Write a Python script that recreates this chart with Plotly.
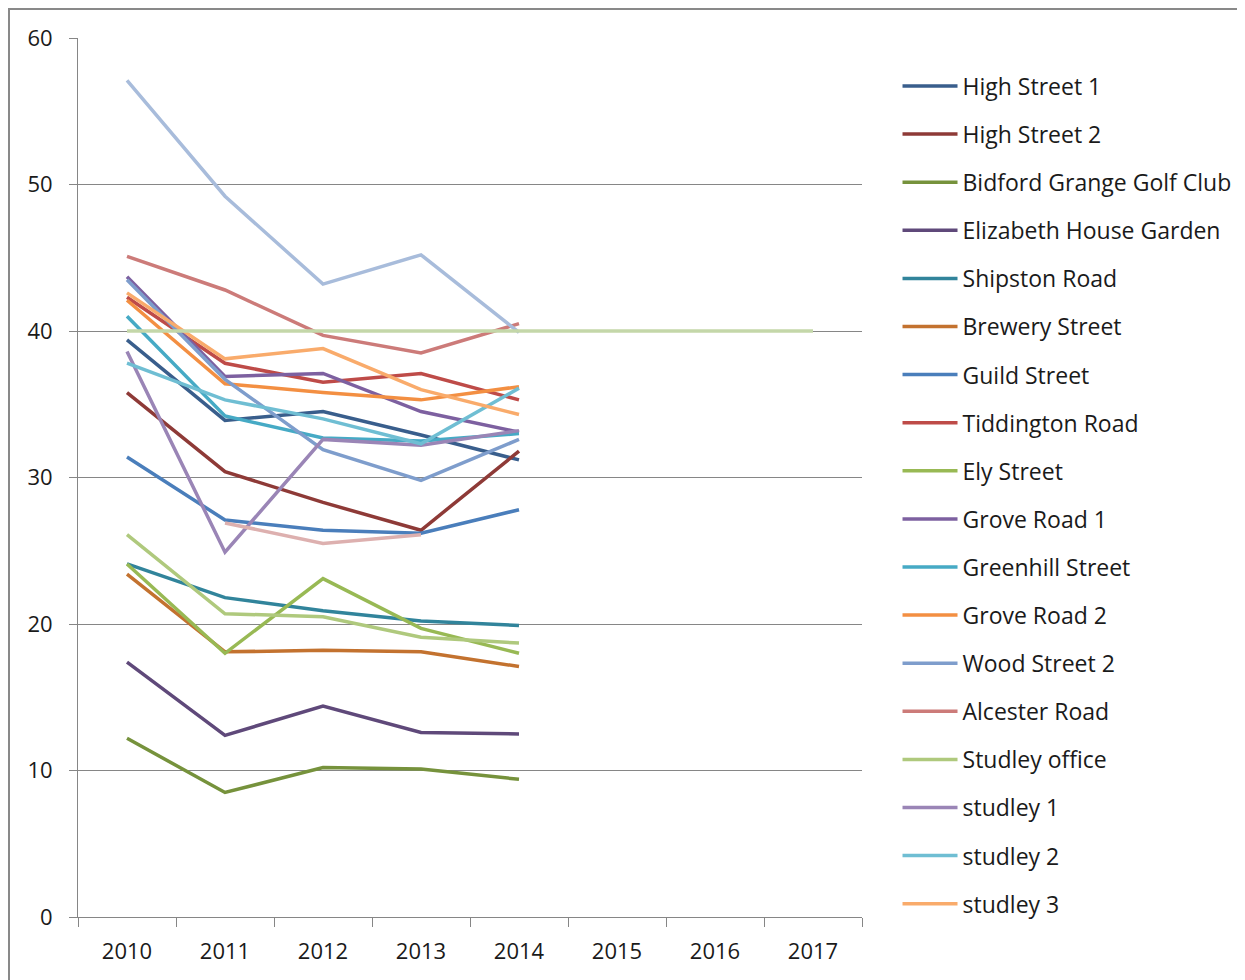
import plotly.graph_objects as go

years = ["2010", "2011", "2012", "2013", "2014", "2015", "2016", "2017"]

names = [
    "High Street 1", "High Street 2", "Bidford Grange Golf Club", "Elizabeth House Garden",
    "Shipston Road", "Brewery Street", "Guild Street", "Tiddington Road", "Ely Street",
    "Grove Road 1", "Greenhill Street", "Grove Road 2", "Wood Street 2", "Alcester Road",
    "Studley office", "studley 1", "studley 2", "studley 3",
    "Series 19", "Series 20", "Series 21",
]

high_street_1 = [39.4, 33.9, 34.5, 32.9, 31.2]
high_street_2 = [35.8, 30.4, 28.3, 26.4, 31.8]
bidford = [12.2, 8.5, 10.2, 10.1, 9.4]
elizabeth = [17.4, 12.4, 14.4, 12.6, 12.5]
shipston = [24.1, 21.8, 20.9, 20.2, 19.9]
brewery = [23.4, 18.1, 18.2, 18.1, 17.1]
guild = [31.4, 27.1, 26.4, 26.2, 27.8]
tiddington = [42.3, 37.8, 36.5, 37.1, 35.3]
ely = [24.1, 18.0, 23.1, 19.7, 18.0]
grove_1 = [43.7, 36.9, 37.1, 34.5, 33.1]
greenhill = [41.0, 34.2, 32.7, 32.5, 33.0]
grove_2 = [42.1, 36.4, 35.8, 35.3, 36.2]
wood_2 = [43.5, 36.7, 31.9, 29.8, 32.6]
alcester = [45.1, 42.8, 39.7, 38.5, 40.5]
studley_office = [26.1, 20.7, 20.5, 19.1, 18.7]
studley_1 = [38.6, 24.9, 32.6, 32.2, 33.2]
studley_2 = [37.8, 35.3, 34.0, 32.3, 36.1]
studley_3 = [42.6, 38.1, 38.8, 36.0, 34.3]
series_19 = [57.1, 49.2, 43.2, 45.2, 39.9]
series_20 = [None, 26.9, 25.5, 26.1, None]
series_21 = [40, 40, 40, 40, 40, 40, 40, 40]

values = [
    high_street_1, high_street_2, bidford, elizabeth, shipston, brewery, guild,
    tiddington, ely, grove_1, greenhill, grove_2, wood_2, alcester, studley_office,
    studley_1, studley_2, studley_3, series_19, series_20, series_21,
]

colors = [
    "#395E8C", "#8E3A37", "#76923C", "#5F497A", "#31849B", "#C3722F", "#4A7EBB",
    "#BE4B48", "#98B954", "#7D60A0", "#46AAC5", "#F38F42", "#7E9DCC", "#CC7B79",
    "#AFC97D", "#9A85B6", "#6FBED3", "#F9AB6B", "#A8BCDB", "#DDB0AF", "#C4D7A9",
]

fig = go.Figure()
for i, (n, v, c) in enumerate(zip(names, values, colors)):
    fig.add_trace(go.Scatter(
        x=years[:len(v)], y=v, name=n, mode="lines",
        line=dict(color=c, width=3.5),
        legendgroup=f"g{i}",
        showlegend=i < 18,
        connectgaps=False,
    ))

font_family = "Open Sans, Noto Sans, sans-serif"
W, H = 1237, 972
L, T = 70, 30
PW, PH = 784, 879

fig.update_layout(
    width=W, height=H,
    margin=dict(l=L, r=W - L - PW, t=T, b=H - T - PH, autoexpand=False),
    paper_bgcolor="white", plot_bgcolor="white",
    font=dict(family=font_family, size=22, color="#1a1a1a"),
    showlegend=True,
    legend=dict(
        x=1.0453, y=0.9698, xanchor="left", yanchor="top",
        font=dict(size=23, family=font_family, color="#1a1a1a"),
        tracegroupgap=15.2, traceorder="grouped",
        itemwidth=55,
    ),
    xaxis=dict(
        type="category", categoryorder="array", categoryarray=years,
        range=[-0.5, 7.5],
        showgrid=False, showline=True, linecolor="#868686", linewidth=1,
        ticks="outside", tickson="boundaries", ticklen=9, tickcolor="#868686",
        tickfont=dict(size=22), ticklabelstandoff=15,
    ),
    yaxis=dict(
        range=[0, 60], dtick=10, tick0=0,
        showgrid=True, gridcolor="#868686", gridwidth=1,
        showline=True, linecolor="#868686", linewidth=1,
        ticks="outside", ticklen=8, tickcolor="#868686",
        zeroline=False, tickfont=dict(size=22), ticklabelstandoff=12,
    ),
    shapes=[dict(
        type="rect", xref="paper", yref="paper",
        x0=-(L - 1) / PW, x1=1.6, y0=-0.2, y1=1 + (T - 1) / PH,
        line=dict(color="#898989", width=2), fillcolor="rgba(0,0,0,0)", layer="below",
    )],
)

fig.write_html("out.html")
